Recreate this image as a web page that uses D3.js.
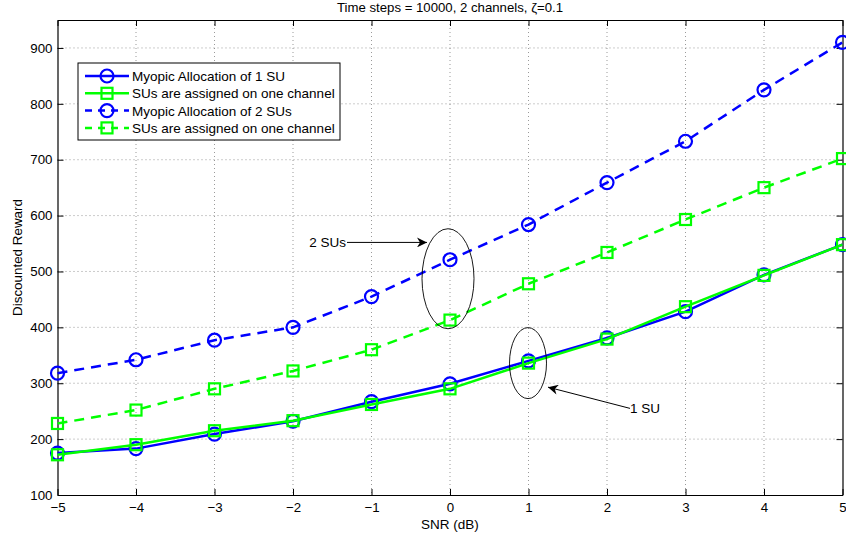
<!DOCTYPE html>
<html>
<head>
<meta charset="utf-8">
<script src="https://cdn.jsdelivr.net/npm/d3@7"></script>
<style>
  body { margin: 0; background: #fff; }
  text { font-family: "Liberation Sans", Arial, sans-serif; fill: #000; }
</style>
</head>
<body>
<div id="chart"></div>
<script>
var snr = [-5, -4, -3, -2, -1, 0, 1, 2, 3, 4, 5];
var myopic1 = [175, 183, 209, 232, 267, 299, 340, 381, 428, 494, 548];
var oneChannel1 = [172, 190, 215, 233, 262, 290, 336, 379, 437, 493, 548];
var myopic2 = [318, 342, 377, 400, 455, 521, 584, 659, 733, 825, 910];
var oneChannel2 = [228, 252, 290, 322, 360, 413, 478, 534, 593, 650, 702];
var yTicks = [100, 200, 300, 400, 500, 600, 700, 800, 900];
var legendLabels = ['Myopic Allocation of 1 SU', 'SUs are assigned on one channel',
                    'Myopic Allocation of 2 SUs', 'SUs are assigned on one channel'];

var width = 846, height = 537,
    plotLeft = 57.5, plotRight = 842.5, plotTop = 20, plotBottom = 495,
    fontSize = 13.3;

var series = [
  { values: myopic1, color: '#0000ff', dash: null, marker: 'circle' },
  { values: oneChannel1, color: '#00ff00', dash: null, marker: 'square' },
  { values: myopic2, color: '#0000ff', dash: '10,7', marker: 'circle' },
  { values: oneChannel2, color: '#00ff00', dash: '10,7', marker: 'square' }
];

var svg = d3.select('#chart').append('svg')
  .attr('width', width)
  .attr('height', height);

var x = d3.scaleLinear().domain([-5, 5]).range([plotLeft, plotRight]);
var y = d3.scaleLinear().domain([100, 950]).range([plotBottom, plotTop]);

// grid
var grid = svg.append('g').attr('stroke', '#555').attr('stroke-width', 0.6)
  .attr('stroke-dasharray', '1,3');
grid.selectAll('.gx').data(snr.slice(1, -1)).enter().append('line')
  .attr('x1', function(d) { return x(d); }).attr('x2', function(d) { return x(d); })
  .attr('y1', plotTop).attr('y2', plotBottom);
grid.selectAll('.gy').data(yTicks.slice(1)).enter().append('line')
  .attr('x1', plotLeft).attr('x2', plotRight)
  .attr('y1', function(d) { return y(d); }).attr('y2', function(d) { return y(d); });

// axes (ticks inward)
var xAxis = d3.axisBottom(x).tickValues(snr).tickSizeInner(-6).tickSizeOuter(0)
  .tickPadding(8).tickFormat(function(d) { return d < 0 ? '\u2212' + (-d) : d; });
svg.append('g').attr('transform', 'translate(0,' + plotBottom + ')').call(xAxis);
var yAxis = d3.axisLeft(y).tickValues(yTicks).tickSizeInner(-6).tickSizeOuter(0).tickPadding(5);
svg.append('g').attr('transform', 'translate(' + plotLeft + ',0)').call(yAxis);
var xTop = d3.axisTop(x).tickValues(snr).tickSizeInner(-6).tickSizeOuter(0).tickFormat('');
svg.append('g').attr('transform', 'translate(0,' + plotTop + ')').call(xTop);
var yRight = d3.axisRight(y).tickValues(yTicks).tickSizeInner(-6).tickSizeOuter(0).tickFormat('');
svg.append('g').attr('transform', 'translate(' + plotRight + ',0)').call(yRight);
svg.selectAll('.domain').attr('stroke', '#000').attr('stroke-width', 1.2);
svg.selectAll('.tick line').attr('stroke', '#000');
svg.selectAll('.tick text').attr('font-size', fontSize)
  .attr('font-family', '"Liberation Sans", Arial, sans-serif');

// lines and markers
var line = d3.line()
  .x(function(d, i) { return x(snr[i]); })
  .y(function(d) { return y(d); });

function drawMarker(g, kind, cx, cy, color) {
  if (kind === 'circle') {
    g.append('circle').attr('cx', cx).attr('cy', cy).attr('r', 6.5)
      .attr('fill', 'none').attr('stroke', color).attr('stroke-width', 2.2);
  } else {
    g.append('rect').attr('x', cx - 5.5).attr('y', cy - 5.5)
      .attr('width', 11).attr('height', 11)
      .attr('fill', 'none').attr('stroke', color).attr('stroke-width', 2.2);
  }
}

series.forEach(function(s) {
  svg.append('path').datum(s.values)
    .attr('d', line)
    .attr('fill', 'none')
    .attr('stroke', s.color)
    .attr('stroke-width', 2.5)
    .attr('stroke-dasharray', s.dash);
  var g = svg.append('g');
  s.values.forEach(function(v, i) {
    drawMarker(g, s.marker, x(snr[i]), y(v), s.color);
  });
});

// legend
var lg = svg.append('g').attr('transform', 'translate(78,63)');
lg.append('rect').attr('width', 262).attr('height', 77)
  .attr('fill', '#fff').attr('stroke', '#000').attr('stroke-width', 1);
series.forEach(function(s, i) {
  var ly = 13 + i * 17.3;
  lg.append('line').attr('x1', 7).attr('x2', 51).attr('y1', ly).attr('y2', ly)
    .attr('stroke', s.color).attr('stroke-width', 2.5)
    .attr('stroke-dasharray', s.dash ? '7,6' : null);
  drawMarker(lg, s.marker, 29, ly, s.color);
  lg.append('text').attr('x', 54).attr('y', ly + 5).attr('font-size', 13.5)
    .text(legendLabels[i]);
});

// annotations
var defs = svg.append('defs');
defs.append('marker').attr('id', 'arrow').attr('viewBox', '0 0 10 10')
  .attr('refX', 10).attr('refY', 5).attr('markerWidth', 14).attr('markerHeight', 10)
  .attr('markerUnits', 'userSpaceOnUse').attr('orient', 'auto')
  .append('path').attr('d', 'M0,0 L10,5 L0,10 L3,5 Z').attr('fill', '#000');

svg.append('ellipse').attr('cx', x(0) - 2).attr('cy', y(487)).attr('rx', 26).attr('ry', 50)
  .attr('fill', 'none').attr('stroke', '#000').attr('stroke-width', 0.9);
svg.append('line').attr('x1', 347).attr('y1', y(552)).attr('x2', 427).attr('y2', y(552))
  .attr('stroke', '#000').attr('stroke-width', 1).attr('marker-end', 'url(#arrow)');
svg.append('text').attr('x', 346).attr('y', y(552) + 5).attr('text-anchor', 'end')
  .attr('font-size', 13.5).text('2 SUs');

svg.append('ellipse').attr('cx', x(1) - 0.5).attr('cy', y(336)).attr('rx', 18.5).attr('ry', 35.5)
  .attr('fill', 'none').attr('stroke', '#000').attr('stroke-width', 0.9);
svg.append('line').attr('x1', 630).attr('y1', y(255)).attr('x2', 548).attr('y2', y(293))
  .attr('stroke', '#000').attr('stroke-width', 1).attr('marker-end', 'url(#arrow)');
svg.append('text').attr('x', 630).attr('y', y(255) + 5)
  .attr('font-size', 13.5).text('1 SU');

// titles
svg.append('text').attr('x', 450).attr('y', 12).attr('text-anchor', 'middle')
  .attr('font-size', 13.2).text('Time steps = 10000, 2 channels, \u03b6=0.1');
svg.append('text').attr('x', 450).attr('y', 529).attr('text-anchor', 'middle')
  .attr('font-size', 13.5).text('SNR (dB)');
svg.append('text').attr('transform', 'translate(22,' + ((plotTop + plotBottom) / 2) + ') rotate(-90)')
  .attr('text-anchor', 'middle').attr('font-size', 13.4).text('Discounted Reward');
</script>
</body>
</html>
